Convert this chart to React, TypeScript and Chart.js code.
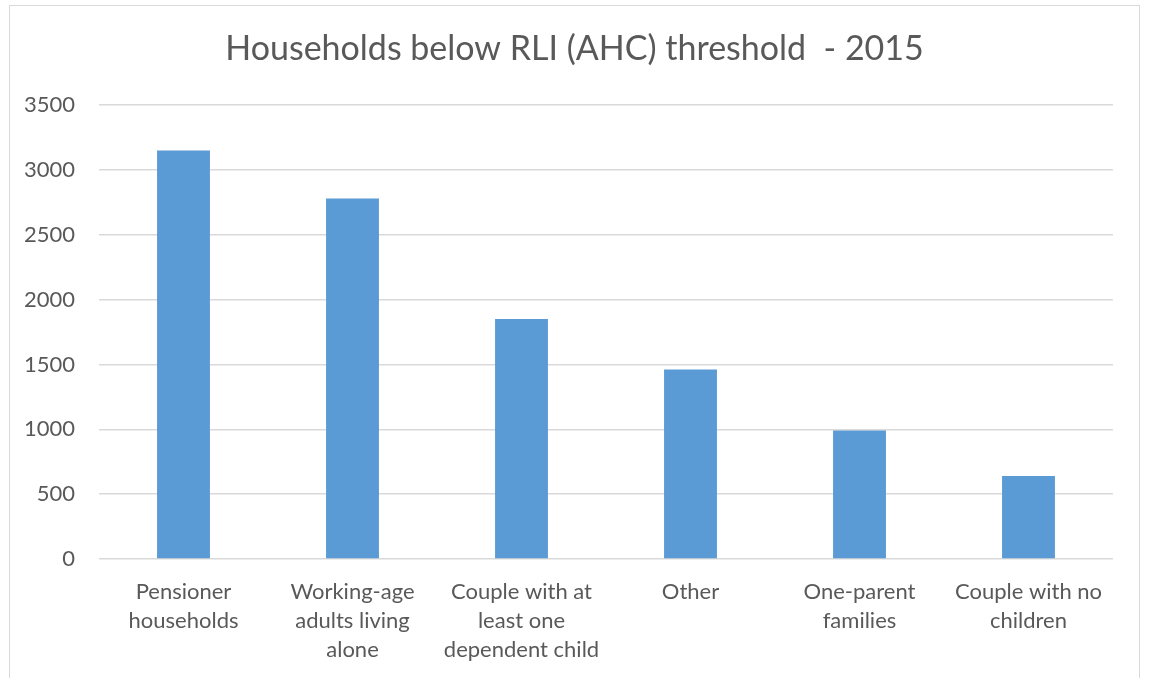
import React, { useEffect, useRef } from "react";
import { Chart, registerables } from "chart.js";

Chart.register(...registerables);

const TITLE = "Households below RLI (AHC) threshold  - 2015";
const categories: string[][] = [
  ["Pensioner", "households"],
  ["Working-age", "adults living", "alone"],
  ["Couple with at", "least one", "dependent child"],
  ["Other"],
  ["One-parent", "families"],
  ["Couple with no", "children"],
];
const values: number[] = [3150, 2780, 1850, 1460, 990, 640];
const yMin = 0;
const yMax = 3500;
const yStep = 500;

const FONT = "Lato, 'Open Sans', sans-serif";
const TEXT = "#595959";
const GRID = "#d9d9d9";
const BAR = "#5b9bd5";

const titlePlugin = {
  id: "centeredTitle",
  afterDraw(chart: any) {
    const ctx = chart.ctx;
    ctx.save();
    ctx.fillStyle = TEXT;
    ctx.font = `normal 34px ${FONT}`;
    ctx.textAlign = "center";
    ctx.textBaseline = "middle";
    ctx.fillText(TITLE, chart.width / 2, 49);
    ctx.restore();
  },
};

export default function App() {
  const ref = useRef<HTMLCanvasElement | null>(null);
  useEffect(() => {
    if (!ref.current) return;
    const chart = new Chart(ref.current, {
      type: "bar",
      data: {
        labels: categories as any,
        datasets: [
          {
            data: values,
            backgroundColor: BAR,
            borderWidth: 0,
            barPercentage: 0.313,
            categoryPercentage: 1,
          },
        ],
      },
      plugins: [titlePlugin],
      options: {
        animation: false,
        responsive: false,
        maintainAspectRatio: false,
        layout: { padding: { left: 0, right: 36, top: 105, bottom: 0 } },
        plugins: {
          legend: { display: false },
          tooltip: { enabled: false },
          title: { display: false },
        },
        scales: {
          x: {
            grid: { display: false, drawTicks: false },
            border: { display: false },
            ticks: {
              color: TEXT,
              font: { family: FONT, size: 22, lineHeight: 1.32 },
              padding: 18,
              maxRotation: 0,
              autoSkip: false,
            },
            afterFit: (s: any) => {
              s.height = 119;
            },
          },
          y: {
            min: yMin,
            max: yMax,
            grid: { color: GRID, lineWidth: 1.5, drawTicks: false },
            border: { display: false },
            ticks: {
              stepSize: yStep,
              color: TEXT,
              font: { family: FONT, size: 22 },
              padding: 24,
              callback: (v: any) => String(v),
            },
            afterFit: (s: any) => {
              s.width = 99;
            },
          },
        },
      },
    });
    return () => chart.destroy();
  }, []);
  return (
    <div style={{ position: "absolute", left: 0, top: 0, width: 1149, height: 678, overflow: "hidden", background: "#fff" }}>
      <div
        style={{
          position: "absolute",
          left: 9,
          top: 5,
          width: 1131,
          height: 720,
          border: "1.5px solid #d9d9d9",
          boxSizing: "border-box",
        }}
      />
      <canvas ref={ref} width={1149} height={678} style={{ position: "absolute", left: 0, top: 0 }} />
    </div>
  );
}
